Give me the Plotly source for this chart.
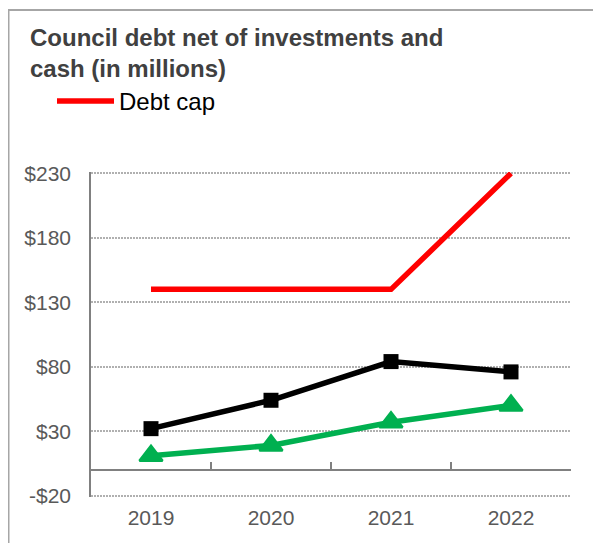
import plotly.graph_objects as go

years = ["2019", "2020", "2021", "2022"]
debt_cap = [140, 140, 140, 230]
debt_black = [32, 54, 84, 76]
debt_green = [11, 19, 37, 50]

y_tickvals = [-20, 30, 80, 130, 180, 230]
y_ticktext = ["-$20", "$30", "$80", "$130", "$180", "$230"]
y_range = [-21, 231]

# page has an 8px body margin, so the figure is sized to fill the rest of the window
W, H = 593, 535
ML, MR, MT, MB = 83, 30, 164, 46
pw, ph = W - ML - MR, H - MT - MB

idx = list(range(len(years)))
x_range = [-0.5, len(years) - 0.5]
boundaries = [i + 0.5 for i in idx]

FONT = "Liberation Sans, Arial, sans-serif"

fig = go.Figure()
fig.add_trace(go.Scatter(x=idx, y=debt_cap, name="Debt cap", mode="lines",
                         line=dict(color="#FF0000", width=5.5), showlegend=True))
fig.add_trace(go.Scatter(x=idx, y=debt_black, name="Debt", mode="lines+markers",
                         line=dict(color="#000000", width=5.5),
                         marker=dict(symbol="square", size=15, color="#000000"),
                         showlegend=False))
fig.add_trace(go.Scatter(x=idx, y=debt_green, name="Net", mode="lines+markers",
                         line=dict(color="#00B050", width=5.5),
                         marker=dict(symbol="triangle-up", size=20, color="#00B050",
                                     line=dict(color="#00B050", width=2.5)),
                         showlegend=False))
# axis at zero with category separators
fig.add_trace(go.Scatter(x=[], y=[], xaxis="x2", yaxis="y", showlegend=False, hoverinfo="skip"))

zero_pos = (0 - y_range[0]) / (y_range[1] - y_range[0])

fig.update_layout(
    width=W, height=H,
    margin=dict(l=ML, r=MR, t=MT, b=MB),
    paper_bgcolor="white", plot_bgcolor="white",
    font=dict(family=FONT),
    title=dict(text="<b>Council debt net of investments and<br>cash (in millions)</b>",
               font=dict(family=FONT, size=24, color="#404040"),
               xref="container", yref="container", x=22 / W, xanchor="left",
               y=1 - 38 / H, yanchor="top"),
    showlegend=True,
    legend=dict(x=(44 - ML) / pw, xanchor="left", y=1 + (MT - 71) / ph, yanchor="top",
                font=dict(family=FONT, size=24, color="#000000"),
                bgcolor="rgba(0,0,0,0)", itemwidth=57),
    xaxis=dict(range=x_range, tickmode="array", tickvals=idx, ticktext=years,
               showgrid=False, zeroline=False, showline=False, ticks="",
               tickfont=dict(family=FONT, size=21, color="#595959"),
               ticklabelstandoff=6),
    xaxis2=dict(overlaying="x", anchor="free", position=zero_pos, range=x_range,
                tickmode="array", tickvals=boundaries, ticks="inside", ticklen=7,
                tickcolor="#808080", tickwidth=1.5, showline=True, linecolor="#808080",
                linewidth=1.5, showgrid=False, zeroline=False, showticklabels=False),
    yaxis=dict(range=y_range, tickmode="array", tickvals=y_tickvals, ticktext=y_ticktext,
               showgrid=True, gridcolor="#B0B0B0", griddash="1.5px,1.5px", gridwidth=1.5,
               zeroline=False, showline=True, linecolor="#808080", linewidth=1.5,
               ticks="", tickfont=dict(family=FONT, size=21, color="#595959"),
               ticklabelstandoff=14),
    shapes=[
        dict(type="rect", xref="paper", yref="paper",
             x0=(0.5 - ML) / pw, x1=2, y0=-1, y1=(H - MB - 2) / ph,
             line=dict(color="#A6A6A6", width=2), layer="below"),
    ],
)

fig.write_html("out.html")
